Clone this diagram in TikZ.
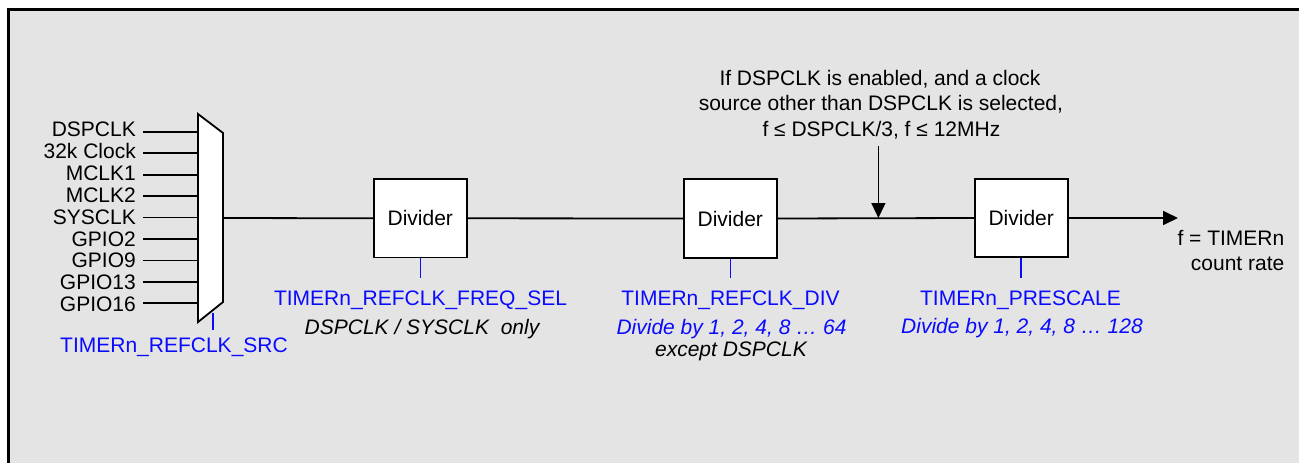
\documentclass[tikz,border=0pt]{standalone}
\usepackage{fontspec}
\setmainfont{Liberation Sans}
\usetikzlibrary{arrows.meta}
\definecolor{panelgray}{RGB}{228,228,228}
\definecolor{regblue}{RGB}{10,10,255}
\begin{document}
\begin{tikzpicture}[x=1pt,y=-1pt,
  every node/.style={font=\fontsize{21}{25}\selectfont, inner sep=0pt},
  wire/.style={line width=1.8pt},
  divbox/.style={draw, fill=white, line width=1.8pt, minimum width=93pt, minimum height=78.5pt},
  ctrl/.style={draw=regblue, line width=1.6pt},
  reg/.style={text=regblue, anchor=base},
  regnote/.style={text=regblue, anchor=base, font=\fontsize{21}{25}\selectfont\itshape},
  plainnote/.style={anchor=base, font=\fontsize{21}{25}\selectfont\itshape},
  txt/.style={anchor=base},
  tip/.style={-{Triangle[length=15pt,width=14pt]}}]
\useasboundingbox (0,0) rectangle (1299,463);
% panel
\fill[panelgray] (8,9.5) rectangle (1299,463);
\draw[line width=3pt] (8,463) -- (8,9.5) -- (1299,9.5);

% multiplexer
\coordinate (mTL) at (198,114);
\coordinate (mTR) at (223,133);
\coordinate (mBR) at (223,302);
\coordinate (mBL) at (198,322);
\coordinate (mout) at (223,218);
\coordinate (msel) at (212.7,313);
\coordinate (mselend) at (212.7,330);

% inputs
\foreach \t [count=\i] in {DSPCLK,32k Clock,MCLK1,MCLK2,SYSCLK,GPIO2,GPIO9,GPIO13,GPIO16}{
  \pgfmathsetmacro{\ly}{131.7+21.45*(\i-1)}
  \pgfmathsetmacro{\ty}{136.5+21.9*(\i-1)}
  \node[anchor=base east] (lab\i) at (136,\ty) {\t};
  \coordinate (in\i) at (143.3,\ly);
  \coordinate (min\i) at (198,\ly);
  \draw[wire] (in\i) -- (min\i);
}
\draw[fill=white, line width=1.8pt] (mTL) -- (mTR) -- (mBR) -- (mBL) -- cycle;
\draw[ctrl] (msel) -- (mselend);
\node[reg] (srcreg) at (174,352) {TIMERn\_REFCLK\_SRC};

% dividers
\node[divbox] (div1) at (420.3,218.3) {Divider};
\node[divbox] (div2) at (730.3,218.5) {Divider};
\node[divbox] (div3) at (1021.2,218) {Divider};

\coordinate (join) at (878.4,218);
\coordinate (out) at (1178,218);
\draw[wire] (mout) -- (div1.west);
\draw[wire] (div1.east) -- (div2.west);
\draw[wire] (div2.east) -- (div3.west);
\draw[wire, tip] (div3.east) -- (out);

% control lines
\coordinate (c1) at (420.3,278);
\coordinate (c2) at (730.3,278);
\coordinate (c3) at (1021.2,278);
\draw[ctrl] (div1.south) -- (c1);
\draw[ctrl] (div2.south) -- (c2);
\draw[ctrl] (div3.south) -- (c3);

\node[reg] (freqsel) at (420.5,305) {TIMERn\_REFCLK\_FREQ\_SEL};
\node[plainnote] (freqnote) at (422,334) {DSPCLK / SYSCLK\ \ only};
\node[reg] (divreg) at (730.5,305) {TIMERn\_REFCLK\_DIV};
\node[regnote] (divnote) at (731.5,334) {Divide by 1, 2, 4, 8 … 64};
\node[plainnote] (divexc) at (731,356) {except DSPCLK};
\node[reg] (prereg) at (1020.5,305) {TIMERn\_PRESCALE};
\node[regnote] (prenote) at (1022,333) {Divide by 1, 2, 4, 8 … 128};

% annotation
\node[txt] (ann1) at (880,85) {If DSPCLK is enabled, and a clock};
\node[txt] (ann2) at (880.9,110.5) {source other than DSPCLK is selected,};
\node[txt] (ann3) at (881.4,136) {f ≤ DSPCLK/3, f ≤ 12MHz};
\coordinate (annstart) at (878.4,146);
\draw[line width=1.3pt, tip] (annstart) -- (join);

% output label
\node[anchor=base east] (outl1) at (1284.5,245) {f = TIMERn};
\node[anchor=base east] (outl2) at (1284.5,270) {count rate};
\end{tikzpicture}
\end{document}
